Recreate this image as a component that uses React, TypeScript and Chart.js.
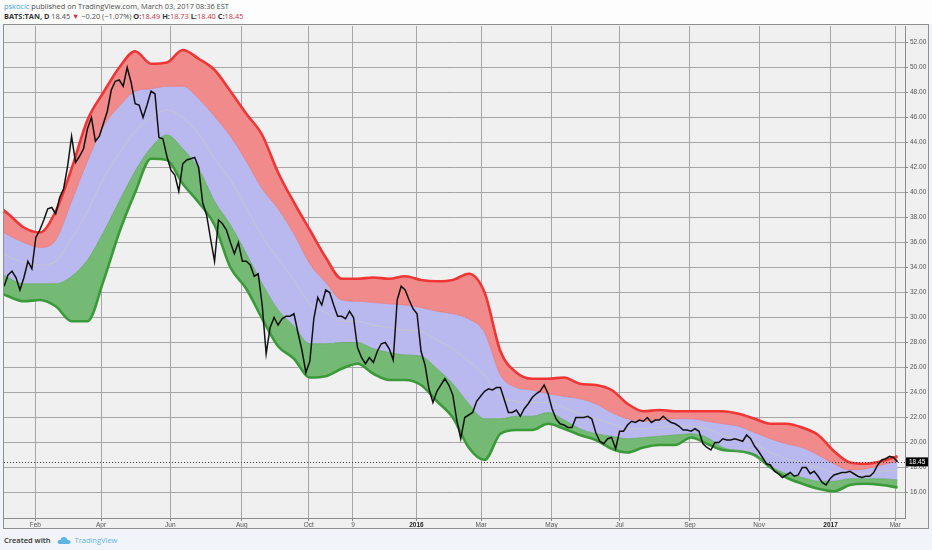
import React, { useEffect, useRef } from 'react';
import { Chart, registerables } from 'chart.js';

Chart.register(...registerables);

// BATS:TAN daily close, read every half week from ~Jan 5 2015 to Mar 2 2017
const close = [
  32.5, 33.4, 33.7, 33.2, 32.2, 33.2, 34.5, 33.9, 36.4, 37.0,
  37.8, 38.7, 38.8, 38.3, 39.6, 40.3, 42.1, 44.5, 42.4, 42.9,
  43.5, 45.1, 46.0, 44.1, 44.5, 45.5, 46.5, 48.2, 48.9, 49.0,
  48.5, 50.0, 48.8, 47.1, 47.0, 46.0, 47.0, 48.1, 47.9, 44.4,
  44.3, 42.9, 41.8, 41.4, 40.1, 42.3, 42.6, 42.7, 42.8, 42.0,
  39.2, 38.2, 36.3, 34.5, 37.8, 37.5, 37.0, 36.0, 35.1, 36.0,
  34.5, 34.5, 34.2, 33.3, 33.5, 31.0, 27.1, 29.2, 30.0, 29.4,
  29.9, 30.1, 30.1, 30.3, 28.8, 27.4, 25.6, 26.5, 29.9, 31.6,
  31.0, 32.2, 32.0, 31.0, 30.1, 30.1, 29.9, 30.5, 30.0, 27.6,
  26.8, 26.3, 26.8, 26.4, 27.3, 27.9, 28.0, 27.5, 26.6, 31.4,
  32.5, 32.2, 31.4, 30.7, 30.3, 27.3, 26.2, 24.3, 23.2, 24.1,
  24.6, 25.1, 24.6, 23.8, 21.8, 20.3, 22.0, 22.2, 22.4, 23.3,
  23.7, 24.1, 24.3, 24.2, 24.4, 24.4, 23.4, 22.4, 22.4, 22.6,
  22.1, 22.7, 23.1, 23.6, 23.9, 24.1, 24.6, 23.9, 22.7, 21.9,
  21.5, 21.4, 21.2, 21.2, 22.0, 22.0, 22.0, 22.1, 21.9, 20.8,
  20.1, 19.9, 20.3, 20.4, 19.5, 20.9, 20.9, 21.4, 21.7, 21.6,
  21.8, 21.7, 22.0, 21.6, 21.8, 21.8, 22.1, 21.8, 21.6, 21.5,
  21.3, 21.0, 21.0, 20.9, 21.1, 20.9, 19.9, 19.6, 19.4, 20.0,
  20.0, 20.3, 20.2, 20.2, 20.3, 20.2, 20.1, 20.6, 20.3, 19.7,
  19.3, 18.8, 18.3, 18.2, 17.7, 17.5, 17.2, 17.4, 17.6, 17.3,
  17.4, 18.0, 18.0, 17.5, 17.7, 17.3, 16.8, 16.6, 17.1, 17.4,
  17.5, 17.6, 17.6, 17.7, 17.5, 17.3, 17.2, 17.3, 17.3, 17.6,
  18.2, 18.6, 18.7, 18.9, 18.8, 18.45,
];

// channel lines, one value every two weeks (first one a week before the start)
const upper = [
  39.3, 38.3, 37.2, 36.8, 38.5, 41.9, 45.8, 48.0, 50.0, 51.3,
  50.3, 50.4, 51.4, 50.7, 49.8, 48.1, 46.3, 44.6, 41.6, 39.2,
  37.0, 34.8, 33.1, 33.1, 33.2, 33.1, 33.3, 33.0, 32.9, 33.0,
  33.5, 32.0, 27.3, 25.6, 25.1, 25.1, 25.2, 24.7, 24.6, 24.2,
  23.1, 22.5, 22.6, 22.5, 22.5, 22.5, 22.5, 22.3, 21.9, 21.5,
  21.5, 21.2, 20.6, 19.3, 18.4, 18.3, 18.5, 18.9,
];
const upperMid = [
  37.4, 36.6, 36.0, 35.6, 36.2, 39.3, 42.5, 45.3, 46.9, 48.1,
  48.3, 48.5, 48.5, 47.5, 46.1, 44.5, 42.5, 40.3, 38.7, 36.7,
  34.3, 32.8, 31.4, 31.3, 31.2, 31.1, 31.0, 30.8, 30.5, 30.3,
  29.9, 28.8, 25.4, 24.4, 24.2, 23.9, 23.7, 23.5, 23.1, 22.4,
  21.9, 21.7, 21.8, 21.9, 21.9, 21.7, 21.5, 21.3, 20.8, 20.3,
  19.9, 19.6, 19.0, 18.3, 17.8, 17.9, 18.2, 18.5,
];
const basis = [
  35.7, 34.9, 34.4, 34.2, 34.5, 36.3, 38.5, 41.1, 43.1, 44.9,
  46.0, 46.6, 46.0, 44.7, 42.7, 41.0, 38.8, 36.5, 34.7, 33.0,
  31.1, 30.4, 29.7, 29.7, 29.4, 29.2, 29.0, 28.9, 28.2, 27.5,
  26.5, 25.4, 23.7, 23.3, 23.2, 23.2, 22.8, 22.3, 21.9, 21.5,
  21.1, 21.1, 21.2, 21.3, 21.3, 21.1, 20.6, 20.3, 19.9, 19.2,
  18.7, 18.4, 18.0, 17.6, 17.5, 17.5, 17.7, 17.8,
];
const lowerMid = [
  34.0, 33.2, 32.7, 32.7, 32.7, 33.3, 34.6, 36.8, 39.3, 41.7,
  43.6, 44.6, 43.5, 41.9, 39.3, 37.4, 35.1, 32.7, 30.6, 29.3,
  27.9, 27.9, 28.0, 28.0, 27.5, 27.2, 27.0, 26.9, 25.9, 24.7,
  23.1, 21.9, 21.9, 22.1, 22.1, 22.4, 21.8, 21.1, 20.7, 20.5,
  20.3, 20.4, 20.5, 20.6, 20.7, 20.4, 19.6, 19.3, 18.9, 18.1,
  17.5, 17.2, 16.9, 16.9, 17.1, 17.1, 17.1, 17.0,
];
const lower = [
  32.3, 31.7, 31.3, 31.4, 30.9, 29.7, 29.7, 32.9, 36.8, 40.0,
  42.7, 42.6, 40.7, 39.2, 37.4, 34.0, 32.3, 29.9, 27.7, 26.7,
  25.2, 25.3, 25.9, 26.3, 25.5, 25.0, 25.0, 24.6, 23.3, 22.0,
  19.6, 18.6, 20.7, 21.0, 21.0, 21.5, 21.1, 20.6, 20.2, 19.5,
  19.2, 19.6, 19.8, 19.8, 20.4, 19.9, 19.4, 19.3, 19.0, 18.0,
  17.2, 16.7, 16.3, 16.1, 16.6, 16.7, 16.6, 16.4,
];

const priceTicks = [16, 18, 20, 22, 24, 26, 28, 30, 32, 34, 36, 38, 40, 42, 44, 46, 48, 50, 52];
const monthDates = [
  '2015-02-02', '2015-04-01', '2015-06-01', '2015-08-03', '2015-10-01', '2015-11-09', '2016-01-04',
  '2016-03-01', '2016-05-02', '2016-07-01', '2016-09-01', '2016-11-01', '2017-01-03', '2017-03-01',
];
const monthLabels = ['Feb', 'Apr', 'Jun', 'Aug', 'Oct', '9', '2016', 'Mar', 'May', 'Jul', 'Sep', 'Nov', '2017', 'Mar'];

const START = Date.parse('2015-01-02');
const toWeeks = (d: string) => (Date.parse(d) - START) / (7 * 86400000);

const priceWeeks = close.map((_, i) => (i + 1) / 2);
const bandWeeks = upper.map((_, i) => 2 * i - 1);
const pts = (xs: number[], ys: number[]) => ys.map((y, i) => ({ x: xs[i], y }));

const FONT = "'Liberation Sans', Arial, sans-serif";
const isYear = (s: string) => /^\d{4}$/.test(s);

const lastPrice = {
  id: 'lastPrice',
  afterDatasetsDraw(chart: any) {
    const { ctx, chartArea } = chart;
    const last = close[close.length - 1];
    const y = Math.round(chart.scales.y.getPixelForValue(last)) + 0.5;
    ctx.save();
    ctx.strokeStyle = '#3a3a3a';
    ctx.lineWidth = 1;
    ctx.setLineDash([1, 2]);
    ctx.beginPath();
    ctx.moveTo(chartArea.left, y);
    ctx.lineTo(chartArea.right, y);
    ctx.stroke();
    ctx.restore();
  },
  afterDraw(chart: any) {
    const { ctx, chartArea } = chart;
    const last = close[close.length - 1];
    const y = chart.scales.y.getPixelForValue(last);
    ctx.save();
    ctx.fillStyle = '#000';
    ctx.fillRect(chartArea.right + 1, y - 4.5, chart.width - chartArea.right - 1, 9);
    ctx.fillStyle = '#fff';
    ctx.font = `6.5px ${FONT}`;
    ctx.textBaseline = 'middle';
    ctx.fillText(last.toFixed(2), chartArea.right + 4, y + 0.5);
    ctx.restore();
  },
};

const grid = { color: '#a6a6a6', lineWidth: 1, tickLength: 3, tickColor: '#8c8c8c' };

const TanChart: React.FC = () => {
  const canvasRef = useRef<HTMLCanvasElement | null>(null);
  const chartRef = useRef<Chart | null>(null);

  useEffect(() => {
    const canvas = canvasRef.current;
    if (!canvas) return;

    const band = (data: number[], color: string, width: number, fill: any) => ({
      data: pts(bandWeeks, data),
      borderColor: color,
      borderWidth: width,
      pointRadius: 0,
      cubicInterpolationMode: 'monotone' as const,
      fill,
    });

    chartRef.current = new Chart(canvas, {
      type: 'line',
      data: {
        datasets: [
          {
            data: pts(priceWeeks, close),
            borderColor: '#111',
            borderWidth: 1.5,
            pointRadius: 0,
            tension: 0,
            fill: false,
          },
          band(basis, 'rgba(205,205,190,0.8)', 0.8, false),
          band(upper, '#f03535', 2.6, { target: 3, above: '#f18a8a', below: '#f18a8a' }),
          band(upperMid, 'rgba(225,110,120,0.8)', 0.8, { target: 4, above: '#b9b9ef', below: '#b9b9ef' }),
          band(lowerMid, '#5fa85f', 0.8, { target: 5, above: '#74b974', below: '#74b974' }),
          band(lower, '#3a9a3a', 2.6, false),
        ] as any,
      },
      options: {
        animation: false,
        responsive: true,
        maintainAspectRatio: false,
        layout: { padding: { left: 0, right: 0, top: 1, bottom: 0 } },
        plugins: {
          legend: { display: false },
          tooltip: { enabled: false },
          filler: { drawTime: 'beforeDatasetsDraw' },
        } as any,
        scales: {
          x: {
            type: 'linear',
            min: 0.49,
            max: 113.94,
            afterBuildTicks: (s: any) => {
              s.ticks = monthDates.map((d) => ({ value: toWeeks(d) }));
            },
            afterFit: (s: any) => {
              s.height = 10;
              s.paddingLeft = 0;
              s.paddingRight = 0;
            },
            ticks: {
              autoSkip: false,
              maxRotation: 0,
              padding: 0,
              callback: (_v: any, i: number) => monthLabels[i],
              color: (c: any) => (isYear(monthLabels[c.index]) ? '#222' : '#555'),
              font: (c: any) => ({
                family: FONT,
                size: 6.5,
                weight: isYear(monthLabels[c.index]) ? 'bold' : 'normal',
              }),
            },
            grid,
            border: { color: '#8c8c8c' },
          },
          y: {
            position: 'right',
            min: 13.96,
            max: 53.32,
            afterBuildTicks: (s: any) => {
              s.ticks = priceTicks.map((v) => ({ value: v }));
            },
            afterFit: (s: any) => {
              s.width = 23;
              s.paddingTop = 0;
              s.paddingBottom = 0;
            },
            ticks: {
              padding: 2,
              color: '#555',
              font: { family: FONT, size: 6.5 },
              callback: (v: any) => Number(v).toFixed(2),
            },
            grid,
            border: { color: '#8c8c8c' },
          },
        } as any,
      },
      plugins: [lastPrice],
    });

    return () => {
      if (chartRef.current) {
        chartRef.current.destroy();
        chartRef.current = null;
      }
    };
  }, []);

  return (
    <div style={{ position: 'relative', width: 924, height: 503 }}>
      <canvas ref={canvasRef}></canvas>
    </div>
  );
};

const red = { color: '#c8303f' };
const b = { fontWeight: 700, color: '#333' };

const App: React.FC = () => {
  return (
    <div
      style={{
        position: 'fixed',
        left: 0,
        top: 0,
        width: 932,
        height: 550,
        background: '#f1f4f8',
        fontFamily: "'Open Sans', sans-serif",
        overflow: 'hidden',
      }}
    >
      <div style={{ position: 'absolute', left: 0, top: 0, width: 932, height: 24, background: '#fdfdfd' }} />
      <div style={{ position: 'absolute', left: 4, top: 1, fontSize: 7.4, lineHeight: '10px', color: '#4a4a4a', whiteSpace: 'nowrap' }}>
        <span style={{ color: '#3a9fd8' }}>pskocic</span> published on TradingView.com, March 03, 2017 08:36 EST
      </div>
      <div style={{ position: 'absolute', left: 4, top: 11, fontSize: 7.4, lineHeight: '10px', color: '#4a4a4a', whiteSpace: 'nowrap' }}>
        <span style={b}>BATS:TAN, D</span> 18.45 <span style={red}>▼</span> −0.20 (−1.07%) <span style={b}>O:</span>
        <span style={red}>18.49</span> <span style={b}>H:</span>
        <span style={red}>18.73</span> <span style={b}>L:</span>
        <span style={red}>18.40</span> <span style={b}>C:</span>
        <span style={red}>18.45</span>
      </div>
      <div
        style={{
          position: 'absolute',
          left: 3,
          top: 24,
          width: 926,
          height: 505,
          border: '1px solid #8f8f8f',
          boxSizing: 'border-box',
          background: '#f0f0f0',
        }}
      >
        <TanChart />
      </div>
      <div
        style={{
          position: 'absolute',
          left: 4,
          top: 535,
          fontSize: 7.5,
          lineHeight: '10px',
          color: '#333',
          fontWeight: 600,
          whiteSpace: 'nowrap',
          display: 'flex',
          alignItems: 'center',
        }}
      >
        <span>Created with</span>
        <svg width="14" height="9" viewBox="0 0 14 9" style={{ marginLeft: 6, marginRight: 4 }}>
          <path
            d="M3 8 C1 8 0 6.5 0.8 5 C1.5 3.8 3 3.8 3.5 4 C4 1.5 6.5 0.5 8.5 1.5 C10 2.2 10.5 3.5 10.5 4 C12.5 3.8 14 5.2 13.6 6.6 C13.3 7.6 12.5 8 11.5 8 Z"
            fill="#5db5e3"
          />
        </svg>
        <span style={{ color: '#5db5e3', fontWeight: 400 }}>TradingView</span>
      </div>
    </div>
  );
};

export default App;
